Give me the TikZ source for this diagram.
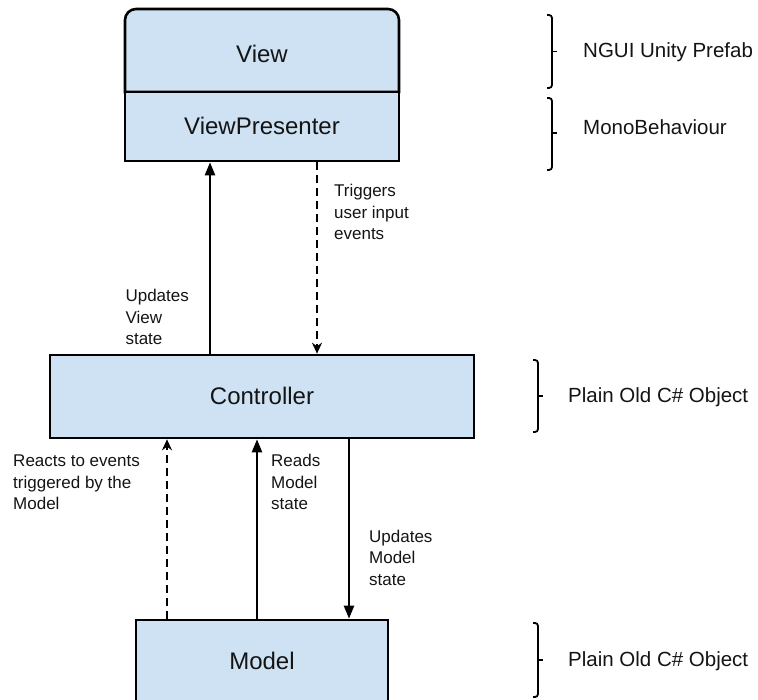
\documentclass[tikz,border=0pt]{standalone}
\usepackage{fontspec}
\setmainfont{Liberation Sans}
\usetikzlibrary{arrows.meta, backgrounds}

\definecolor{boxblue}{HTML}{CFE2F3}
\definecolor{ink}{HTML}{141414}

\tikzstyle{block}=[draw, fill=boxblue, line width=2.6pt, inner sep=0pt, text=ink, text height=20pt, text depth=4pt, font=\fontsize{24}{29}\selectfont]
\tikzstyle{link}=[line width=2.3pt, -{Triangle[length=13pt,width=10pt]}]
\tikzstyle{event}=[line width=2.3pt, dash pattern=on 8pt off 5pt, -{Stealth[length=11pt,width=10pt]}]
\tikzstyle{bracket}=[line width=1.8pt, rounded corners=3pt]
\tikzstyle{tag}=[anchor=west, inner sep=0pt, text=ink, text height=15pt, text depth=4pt, font=\fontsize{20.5}{25}\selectfont]

\begin{document}
\begin{tikzpicture}[x=1pt, y=-1pt]
\clip (0,0) rectangle (758,700);

\node[block, draw=none, fill=none, outer sep=0pt, minimum width=274pt, minimum height=83pt, text height=29pt](view) at (262,50.5) {View};
\node[block, minimum width=274pt, minimum height=69pt](presenter) at (262,126.5) {ViewPresenter};
\node[block, minimum width=424pt, minimum height=83pt](controller) at (262,396.5) {Controller};
\node[block, minimum width=252pt, minimum height=83pt](model) at (262,661.5) {Model};

% top corners of the view are rounded
\begin{scope}[on background layer]
\filldraw[fill=boxblue, line width=2.6pt] (view.south west) [rounded corners=11pt] -- (view.north west) -- (view.north east) [sharp corners] -- (view.south east) -- cycle;
\end{scope}

\coordinate (upview) at (210,0);
\coordinate (trigger) at (317,0);
\coordinate (react) at (167,0);
\coordinate (read) at (257,0);
\coordinate (upmodel) at (349,0);

\begin{scope}[every node/.style={inner sep=0pt, align=left, text=ink, font=\fontsize{17}{21.5}\selectfont}]
       \draw[link] (controller.north -| upview) -- node [pos=0.19, left=20pt] {Updates\\View\\state} (presenter.south -| upview);
       \draw[event] (presenter.south -| trigger) -- node [pos=0.26, right=16pt] {Triggers\\user input\\events} (controller.north -| trigger);
       \draw[event] (model.north -| react) -- node [pos=0.76, left=26pt] {Reacts to events\\triggered by the\\Model} (controller.south -| react);
       \draw[link] (model.north -| read) -- node [pos=0.76, right=13pt] {Reads\\Model\\state} (controller.south -| read);
       \draw[link] (controller.south -| upmodel) -- node [pos=0.66, right=19pt] {Updates\\Model\\state} (model.north -| upmodel);
\end{scope}

\draw[bracket] (547,15) -- (552,15) -- (552,88) -- (547,88);
\draw[bracket] (552,51.5) -- (557,51.5);
\node[tag](prefab) at (583,52) {NGUI Unity Prefab};

\draw[bracket] (547,98) -- (552,98) -- (552,170) -- (547,170);
\draw[bracket] (552,133) -- (557,133);
\node[tag](mono) at (583,129) {MonoBehaviour};

\draw[bracket] (533,360) -- (538,360) -- (538,432) -- (533,432);
\draw[bracket] (538,396) -- (543,396);
\node[tag](pococ) at (568,397) {Plain Old C\# Object};

\draw[bracket] (533,623) -- (538,623) -- (538,697) -- (533,697);
\draw[bracket] (538,660) -- (543,660);
\node[tag](pocom) at (568,661) {Plain Old C\# Object};
\end{tikzpicture}
\end{document}
